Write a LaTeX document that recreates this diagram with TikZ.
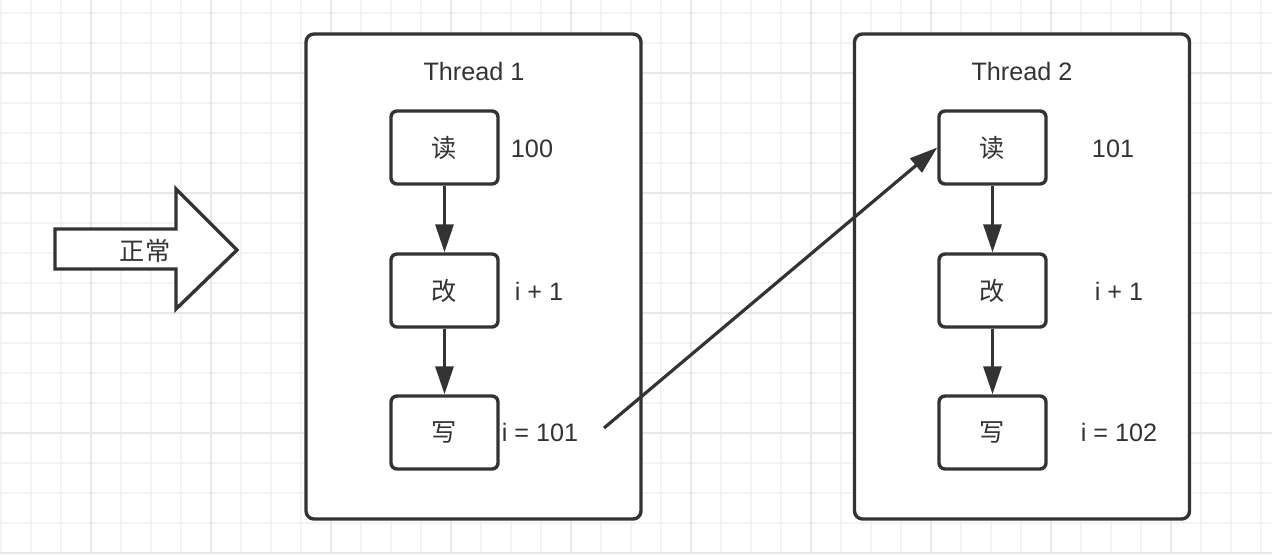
\documentclass[tikz,border=0pt]{standalone}
\usepackage{fontspec}
\setmainfont{Liberation Sans}
\newfontfamily\cjk{Noto Sans CJK SC}
\usetikzlibrary{arrows.meta}
\definecolor{ink}{HTML}{333333}
\definecolor{gridminor}{HTML}{F3F3F3}
\definecolor{gridmajor}{HTML}{E8E8E8}

\begin{document}
\begin{tikzpicture}[x=0.5pt,y=-0.5pt,
  every node/.style={text=ink, font=\fontsize{12.6}{15}\selectfont},
  thread/.style={draw=ink, line width=1.7pt, rounded corners=4pt, fill=white, minimum width=167.5pt, minimum height=242.5pt, inner sep=0pt},
  stepbox/.style={draw=ink, line width=1.7pt, rounded corners=3pt, fill=white, minimum width=53.5pt, minimum height=36.5pt, inner sep=0pt},
  flow/.style={draw=ink, line width=1.6pt, -{Triangle[length=14pt, width=9pt]}}]
\useasboundingbox (0,0) rectangle (1272,554);
\fill[white] (0,0) rectangle (1272,554);

\foreach \x in {1,31,...,1261} \draw[gridminor, line width=1pt] (\x,0) -- (\x,554);
\foreach \y in {13,43,...,553} \draw[gridminor, line width=1pt] (0,\y) -- (1272,\y);
\foreach \x in {91,211,...,1171} \draw[gridmajor, line width=1pt] (\x,0) -- (\x,554);
\foreach \y in {73,193,...,553} \draw[gridmajor, line width=1pt] (0,\y) -- (1272,\y);

\draw[draw=ink, line width=1.7pt, fill=white] (55,229) -- (176,229) -- (176,189) -- (237,250) -- (176,309) -- (176,269) -- (55,269) -- cycle;
\node (normal) at (145,251) {\cjk 正常};

\node[thread] (t1) at (473.5,276.5) {};
\node[thread] (t2) at (1022,276.5) {};
\node (title1) at (474,71) {Thread 1};
\node (title2) at (1022,71) {Thread 2};

\node[stepbox] (read1) at (444.5,147.5) {\cjk 读};
\node[stepbox] (mod1) at (444.5,290.5) {\cjk 改};
\node[stepbox] (write1) at (444.5,432.5) {\cjk 写};
\node[stepbox] (read2) at (992.5,147.5) {\cjk 读};
\node[stepbox] (mod2) at (992.5,290.5) {\cjk 改};
\node[stepbox] (write2) at (992.5,432.5) {\cjk 写};

\node (val1) at (532,149) {100};
\node (inc1) at (539,291) {i + 1};
\node (res1) at (540,432) {i = 101};
\node (val2) at (1113,149) {101};
\node (inc2) at (1119,291) {i + 1};
\node (res2) at (1119,432) {i = 102};

\draw[flow] (read1) -- (mod1);
\draw[flow] (mod1) -- (write1);
\draw[flow] (read2) -- (mod2);
\draw[flow] (mod2) -- (write2);
\coordinate (from1) at (604,428);
\draw[flow] (from1) -- (read2.west);
\end{tikzpicture}
\end{document}
